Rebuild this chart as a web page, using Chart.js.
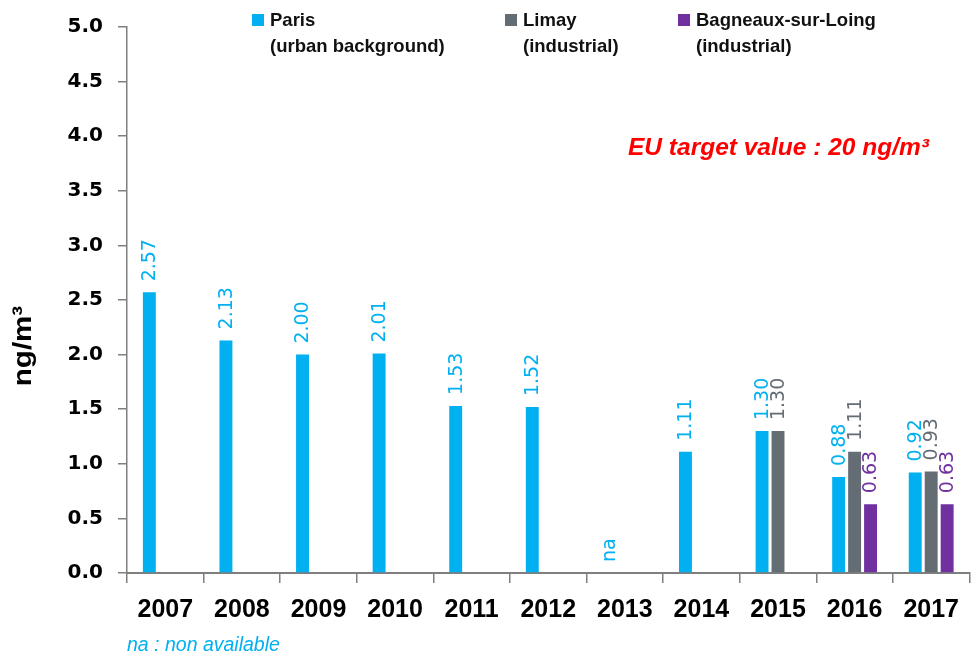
<!DOCTYPE html>
<html>
<head>
<meta charset="utf-8">
<script src="https://cdn.jsdelivr.net/npm/chart.js@4.4.0/dist/chart.umd.min.js"></script>
<style>
  html, body { margin: 0; padding: 0; background: #ffffff; }
  #wrap { width: 971px; height: 655px; position: relative; }
</style>
</head>
<body>
<div id="wrap"><canvas id="chart" width="971" height="655"></canvas></div>
<script>
// Annual mean concentrations (ng/m³) per measuring site
const years = ['2007', '2008', '2009', '2010', '2011', '2012', '2013', '2014', '2015', '2016', '2017'];
const parisValues    = [2.57, 2.13, 2.00, 2.01, 1.53, 1.52, null, 1.11, 1.30, 0.88, 0.92];
const limayValues    = [null, null, null, null, null, null, null, null, 1.30, 1.11, 0.93];
const bagneauxValues = [null, null, null, null, null, null, null, null, null, 0.63, 0.63];

// Years with no Paris measurement, marked "na"
const notAvailableYears = ['2013'];

// Legend entries: site name and site type
const siteNames = ['Paris', 'Limay', 'Bagneaux-sur-Loing'];
const siteTypes = ['(urban background)', '(industrial)', '(industrial)'];
const siteColors = ['#00B0F0', '#646C74', '#7030A0'];

// Y axis range and step
const yMin = 0;
const yMax = 5;
const yStep = 0.5;

const targetText = 'EU target value : 20 ng/m³';
const naNote = 'na : non available';
const yTitle = 'ng/m³';

const valueLabels = {
  id: 'valueLabels',
  afterDatasetsDraw(chart) {
    const ctx = chart.ctx;
    const yScale = chart.scales.y;
    ctx.save();
    ctx.font = '19px "DejaVu Sans"';
    ctx.textAlign = 'left';
    ctx.textBaseline = 'middle';
    chart.data.datasets.forEach((ds, di) => {
      const meta = chart.getDatasetMeta(di);
      meta.data.forEach((bar, i) => {
        const v = ds.data[i];
        let text, top;
        if (v === null || v === undefined) {
          if (di !== 0 || !notAvailableYears.includes(chart.data.labels[i])) return;
          text = 'na';
          top = yScale.getPixelForValue(0);
        } else {
          text = v.toFixed(2);
          top = bar.y;
        }
        ctx.save();
        ctx.fillStyle = ds.backgroundColor;
        ctx.translate(bar.x + 1, top - 11);
        ctx.rotate(-Math.PI / 2);
        ctx.fillText(text, 0, 0);
        ctx.restore();
      });
    });
    ctx.restore();
  }
};

const decorations = {
  id: 'decorations',
  afterDraw(chart) {
    const ctx = chart.ctx;
    ctx.save();

    // legend: square marker with two text lines
    const markerX = [252, 505, 678];
    ctx.font = 'bold 18.5px "Liberation Sans", Arial, sans-serif';
    ctx.textAlign = 'left';
    ctx.textBaseline = 'alphabetic';
    siteNames.forEach((name, k) => {
      ctx.fillStyle = siteColors[k];
      ctx.fillRect(markerX[k], 14, 12, 12);
      ctx.fillStyle = '#111111';
      ctx.fillText(name, markerX[k] + 18, 26);
      ctx.fillText(siteTypes[k], markerX[k] + 18, 52);
    });

    // target value note
    ctx.fillStyle = '#FF0000';
    ctx.font = 'italic bold 24.5px "Liberation Sans", Arial, sans-serif';
    ctx.fillText(targetText, 628, 155);

    // footnote
    ctx.fillStyle = '#00B0F0';
    ctx.font = 'italic 19.5px "Liberation Sans", Arial, sans-serif';
    ctx.fillText(naNote, 127, 651);

    // y axis title, slightly stretched along its length
    ctx.fillStyle = '#000000';
    ctx.font = 'bold 25px "Liberation Sans", Arial, sans-serif';
    ctx.textAlign = 'center';
    ctx.textBaseline = 'alphabetic';
    ctx.translate(31, 346);
    ctx.rotate(-Math.PI / 2);
    ctx.scale(1.18, 1);
    ctx.fillText(yTitle, 0, 0);

    ctx.restore();
  }
};

new Chart(document.getElementById('chart'), {
  type: 'bar',
  data: {
    labels: years,
    datasets: [
      { label: siteNames[0], data: parisValues, backgroundColor: siteColors[0] },
      { label: siteNames[1], data: limayValues, backgroundColor: siteColors[1] },
      { label: siteNames[2], data: bagneauxValues, backgroundColor: siteColors[2] }
    ]
  },
  options: {
    responsive: false,
    animation: false,
    devicePixelRatio: 1,
    layout: { padding: { top: 25, right: 0, bottom: 0, left: 0 } },
    datasets: { bar: { barPercentage: 0.81, categoryPercentage: 0.625 } },
    plugins: {
      legend: { display: false },
      tooltip: { enabled: false },
      title: { display: false }
    },
    scales: {
      x: {
        afterFit(scale) { scale.height = 82; },
        grid: { display: true, drawOnChartArea: false, drawTicks: true, tickLength: 10, color: '#7f7f7f', lineWidth: 1.5, offset: true },
        border: { display: true, color: '#7f7f7f', width: 2 },
        ticks: { color: '#000000', padding: 12, font: { family: '"Liberation Sans", Arial, sans-serif', size: 25, weight: 'bold' } }
      },
      y: {
        min: yMin,
        max: yMax,
        afterFit(scale) { scale.width = 127; },
        grid: { display: true, drawOnChartArea: false, drawTicks: true, tickLength: 9, color: '#7f7f7f', lineWidth: 1.5 },
        border: { display: true, color: '#7f7f7f', width: 1.5 },
        ticks: {
          stepSize: yStep,
          color: '#000000',
          padding: 15,
          font: { family: '"DejaVu Sans"', size: 20, weight: 'bold' },
          callback: (v) => Number(v).toFixed(1)
        }
      }
    }
  },
  plugins: [valueLabels, decorations]
});
</script>
</body>
</html>
